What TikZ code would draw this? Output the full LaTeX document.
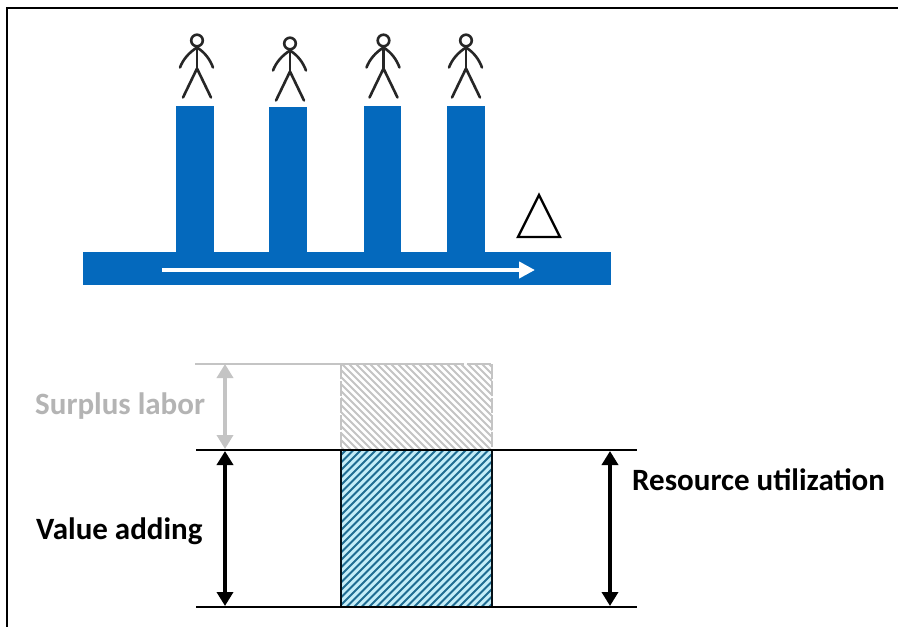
\documentclass[tikz,border=0pt]{standalone}
\usepackage{fontspec}
\setmainfont{Carlito}
\usetikzlibrary{arrows.meta}
\definecolor{bluebar}{HTML}{0469BD}
\definecolor{greyline}{HTML}{C4C4C4}
\definecolor{greytext}{HTML}{B4B4B4}
\definecolor{hatchblue}{HTML}{1F6C92}
\definecolor{hatchbg}{HTML}{C4EDF8}
\tikzset{x=1pt,y=-1pt,
  bar/.style={fill=bluebar,draw=none},
  person/.style={draw=black!85,line width=2.6pt,line cap=round,line join=round},
  level/.style={draw=black,line width=2pt},
  dim/.style={line width=4.6pt,{Triangle[width=16pt,length=14pt]}-{Triangle[width=16pt,length=14pt]}},
  lab/.style={font=\bfseries\fontsize{31}{33}\selectfont,inner sep=0pt,anchor=west}
}
\newcommand{\stick}[2]{%
  \begin{scope}[shift={(#1,#2)}]
    \draw[person] (0,0) circle (5.8);
    \draw[person] (0,6) -- (0,28);
    \draw[person] (-14,57) -- (0,28) -- (14,57);
    \draw[person] (-17,27) .. controls (-14,19) and (-8,12) .. (0,7) .. controls (8,12) and (13,19) .. (16,27);
  \end{scope}}
\begin{document}
\begin{tikzpicture}
\useasboundingbox (0,0) rectangle (898,627);
\fill[white] (0,0) rectangle (898,627);
\coordinate (f1) at (6.5,627); \coordinate (f2) at (6.5,8); \coordinate (f3) at (898,8);
\draw[black,line width=2pt] (f1) -- (f2) -- (f3);
% bars
\path[bar] (83,252) rectangle (611,285);
\path[bar] (176,106) rectangle (214,252);
\path[bar] (269,107) rectangle (307,252);
\path[bar] (364,106) rectangle (401,252);
\path[bar] (447,106) rectangle (485,252);
\coordinate (fs) at (162,270); \coordinate (fe) at (535,270);
\draw[white,line width=4.4pt,-{Triangle[width=16pt,length=16pt]}] (fs) -- (fe);
\stick{197}{40.5}
\stick{290}{43.5}
\stick{383.5}{40.5}
\stick{466}{40.5}
\coordinate (t1) at (539,195); \coordinate (t2) at (518,237); \coordinate (t3) at (560,237);
\draw[black,line width=2.4pt,line join=miter] (t1) -- (t2) -- (t3) -- cycle;
% grey
\begin{scope}
\clip (341,364) rectangle (492,450);
\foreach \i in {-100,-93,...,160} {\draw[greyline,line width=2pt] (341+\i,354) -- (341+\i+106,460);}
\end{scope}
\draw[greyline,line width=2.2pt,dash pattern=on 15pt off 2pt] (341,364) -- (341,450) (492,364) -- (492,450);
\coordinate (g1) at (195,364); \coordinate (g2) at (440,364); \coordinate (g3) at (492,364);
\draw[greyline,line width=2.2pt] (g1) -- (g2);
\draw[greyline,line width=2.2pt,dash pattern=on 24pt off 3pt] (g2) -- (g3);
\coordinate (ga) at (225,364); \coordinate (gb) at (225,449);
\draw[dim,greyline] (ga) -- (gb);
\node[lab,text=greytext] (sl) at (35,406) {Surplus labor};
% blue hatched
\fill[hatchbg] (341,450) rectangle (492,607);
\begin{scope}
\clip (341,450) rectangle (492,607);
\foreach \i in {0,7.5,...,330} {\draw[hatchblue,line width=2pt] (341+\i-5,445) -- (341+\i-172,612);}
\end{scope}
\draw[black!85!hatchblue,line width=1.6pt] (341,450) -- (341,607) (492,450) -- (492,607);
\coordinate (l1) at (196,450); \coordinate (l2) at (637,450);
\coordinate (l3) at (196,607); \coordinate (l4) at (637,607);
\draw[level] (l1) -- (l2);
\draw[level] (l3) -- (l4);
\coordinate (a1) at (225,451); \coordinate (a2) at (225,606);
\coordinate (b1) at (610,451); \coordinate (b2) at (610,606);
\draw[dim,black] (a1) -- (a2);
\draw[dim,black] (b1) -- (b2);
\node[lab] (va) at (36,531) {Value adding};
\node[lab] (ru) at (632,480) {Resource utilization};
\end{tikzpicture}
\end{document}
